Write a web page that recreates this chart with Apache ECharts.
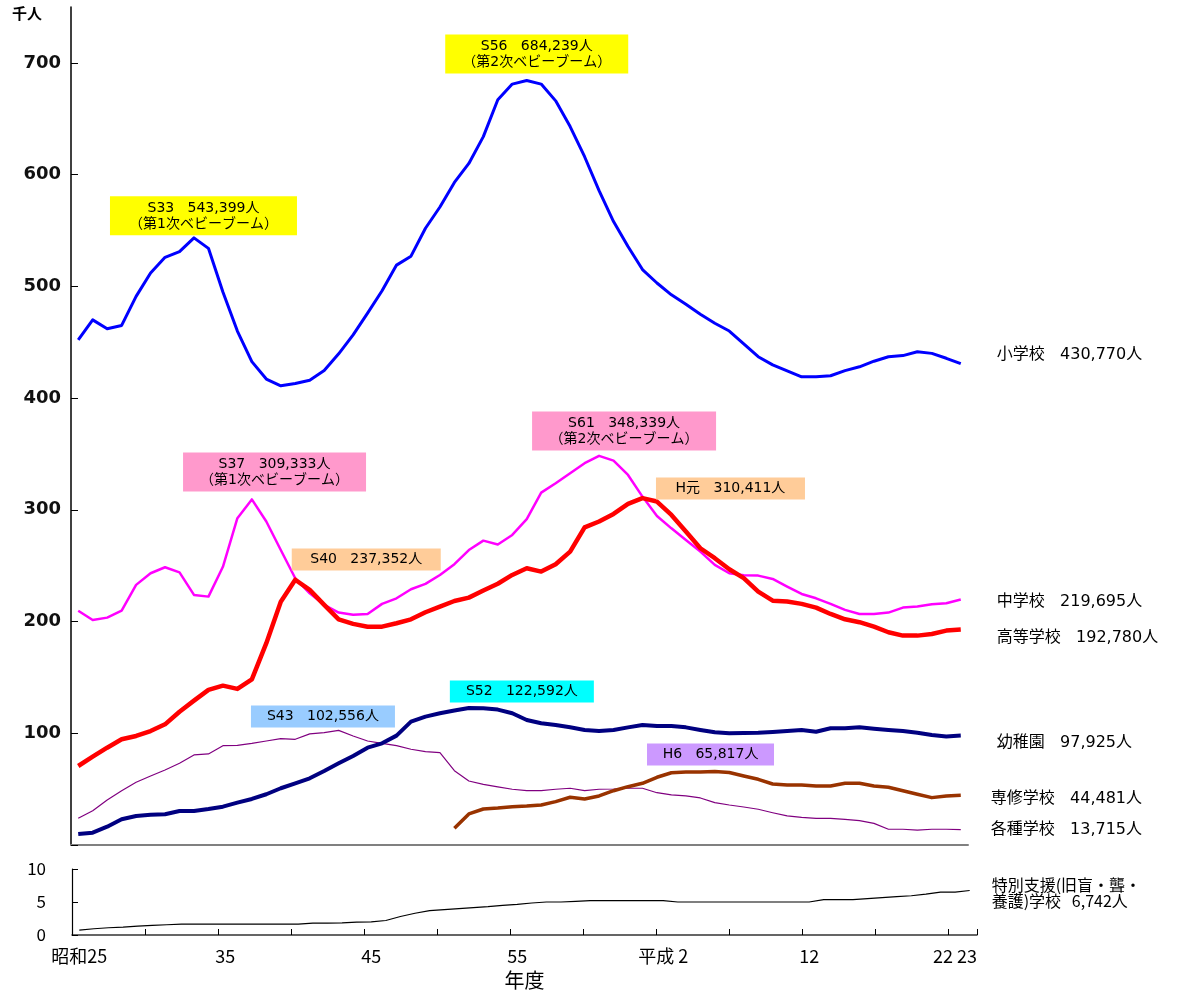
<!DOCTYPE html>
<html><head><meta charset="utf-8">
<script src="https://cdn.jsdelivr.net/npm/echarts@6/dist/echarts.min.js"></script>
<style>html,body{margin:0;padding:0;background:#fff}#c{width:1185px;height:993px}</style>
</head><body><div id="c"></div>
<script>
// fiscal years 昭和25 (1950) .. 平成23 (2011)
const years = ['昭和25','昭和26','昭和27','昭和28','昭和29','昭和30','昭和31','昭和32','昭和33','昭和34',
  '昭和35','昭和36','昭和37','昭和38','昭和39','昭和40','昭和41','昭和42','昭和43','昭和44',
  '昭和45','昭和46','昭和47','昭和48','昭和49','昭和50','昭和51','昭和52','昭和53','昭和54',
  '昭和55','昭和56','昭和57','昭和58','昭和59','昭和60','昭和61','昭和62','昭和63','平成元',
  '平成2','平成3','平成4','平成5','平成6','平成7','平成8','平成9','平成10','平成11',
  '平成12','平成13','平成14','平成15','平成16','平成17','平成18','平成19','平成20','平成21',
  '平成22','平成23'];
// the last two year labels (22, 23) sit together as one group under index 60
const tickIdx = [0, 10, 20, 30, 40, 50, 60];
const tickText = ['昭和25', '35', '45', '55', '平成 2', '12', '22 23'];
const mainTicks = [0, 100, 200, 300, 400, 500, 600, 700];
const mainTickLabels = [100, 200, 300, 400, 500, 600, 700];

// 千人
const elementary = [452,470,462,465,491,512,526,531,543.4,534,495,460,432.6,417,411,413,416,424.6,439.6,456.6,
  476,496,519,527,552,571,593,610,634,667,681,684.2,681,666,643,616,585.6,558,535.6,515,
  503,492.4,484,475,467,460,448.5,437,429.7,424.3,419,419,420,424.6,428,433,437,438,441.4,440,
  435.6,430.8];
const juniorHigh = [209.7,201.4,203.5,209.7,232.8,243.2,248.6,244,223.8,222.3,249,292.5,309.3,289.5,264,238.7,225.3,214.9,208,206,
  206.8,215.8,220.8,228.9,233.7,241.7,251.3,264,272.4,269,277.5,291.6,315.4,323.8,332.8,341.7,348.3,344,331.2,311.8,
  294.5,283.4,273,262.6,250.7,243.2,241.4,241.1,238.1,231.3,224.7,220.8,215.8,210.4,206.8,206.8,208,212.5,213.4,215.5,
  216.4,219.7];
const highSchool = [70.7,79,87.1,94.6,97.6,102,108,119.3,129.2,138.8,142.6,139.7,148.3,180.6,217.8,237.4,228.3,214.9,202,197.9,
  195.4,195.4,198.5,202,208.3,213.4,218.4,221.4,227.7,233.8,241.7,247.7,244.7,251.3,262.6,284.2,289.5,296.3,305.3,310.4,
  307.4,295.4,280.5,265.6,256.7,246.8,238.8,226.8,218.7,217.9,215.8,212.5,206.8,202,199.4,195.4,190.4,187.4,187.4,188.9,
  191.9,192.8];
const kindergarten = [9.8,11,16.4,23,26,27.1,27.5,30.4,30.4,32.2,34.3,37.9,41.2,45.4,50.8,55.2,59.7,66.2,73.1,79.7,
  87.1,91,97.9,110.4,114.9,117.9,120.3,122.6,122.4,121.2,117.9,111.9,108.9,107.4,105.3,103,102,103,105.3,107.4,
  106.5,106.5,105.3,103,100.9,100,100.3,100.5,101.2,102,103,101.4,104.5,104.5,105.3,104.1,103,102,100.5,98.5,
  97.2,97.9];
const senshu = [null,null,null,null,null,null,null,null,null,null,null,null,null,null,null,null,null,null,null,null,
  null,null,null,null,null,null,14.9,27.8,32.2,33.1,34.3,34.9,35.8,38.8,42.7,41.2,43.9,48.6,52.2,55.2,
  60.6,64.7,65.3,65.4,65.8,64.9,61.8,58.8,54.6,53.7,53.7,52.8,52.8,55.2,55.2,52.8,51.7,48.6,45.4,42.4,
  43.9,44.5];
const kakushu = [23.9,30.7,40.3,48.6,56.1,61.8,67.1,73.1,80.6,81.5,88.9,89.2,91,93.1,95.2,94.6,99.4,100.5,102.6,97.6,
  93.1,91,88.9,85.7,83.5,82.6,66.5,57.3,54.3,52,49.9,48.6,48.6,49.9,50.8,48.6,49.9,50.1,50.8,50.8,
  46.8,44.8,43.9,42.1,37.9,35.8,34,32,28.9,26,24.8,23.9,23.9,23,21.8,19.4,14.1,14.1,13.4,14.1,
  14.1,13.7];
const tokubetsu = [0.74,0.95,1.1,1.2,1.35,1.45,1.55,1.65,1.65,1.65,1.65,1.65,1.65,1.65,1.65,1.65,1.8,1.8,1.85,1.95,
  1.98,2.2,2.8,3.3,3.7,3.85,4.0,4.15,4.3,4.5,4.65,4.85,5.0,5.0,5.1,5.2,5.2,5.2,5.2,5.2,
  5.2,5.0,5.0,5.0,5.0,5.0,5.0,5.0,5.0,5.0,5.0,5.35,5.35,5.35,5.5,5.65,5.8,5.95,6.2,6.5,
  6.5,6.742];

const endNames = {
  elementary: '小学校   430,770人', juniorHigh: '中学校   219,695人', highSchool: '高等学校   192,780人',
  kindergarten: '幼稚園   97,925人', senshu: '専修学校   44,481人', kakushu: '各種学校   13,715人',
  tokubetsu: '特別支援(旧盲・聾・\n養護)学校   6,742人'
};
// peak annotations: [year index, text]
const annElem = [[8, 'S33   543,399人\n（第1次ベビーブーム）'], [31, 'S56   684,239人\n（第2次ベビーブーム）']];
const annJunior = [[12, 'S37   309,333人\n（第1次ベビーブーム）'], [36, 'S61   348,339人\n（第2次ベビーブーム）']];
const annHigh = [[15, 'S40   237,352人'], [39, 'H元   310,411人']];
const annKinder = [[27, 'S52   122,592人']];
const annKakushu = [[18, 'S43   102,556人']];
const annSenshu = [[44, 'H6   65,817人']];

const FONT = "'DejaVu Sans','Noto Sans CJK JP',sans-serif";
const NARROW = "'Liberation Sans Narrow','Noto Sans CJK JP',sans-serif";

function mp(data, ann, styles) {
  return {
    silent: true,
    data: ann.map((a, k) => {
      const s = styles[k];
      const two = a[1].indexOf('\n') >= 0;
      return {
        coord: [a[0], data[a[0]]],
        symbol: 'circle', symbolSize: 1, itemStyle: { color: 'rgba(0,0,0,0)' },
        label: {
          show: true, position: 'top', distance: 0, offset: [s.dx, -s.gap],
          formatter: a[1], backgroundColor: s.bg, width: s.w, align: 'center',
          lineHeight: 16, padding: two ? [4, 0, 3, 0] : [3, 0, 3, 0],
          color: '#000', fontSize: 14, fontFamily: FONT
        }
      };
    })
  };
}

function line(name, data, color, width, key, endDist, endOff, ann, annStyles, xi) {
  const s = {
    name, type: 'line', data, xAxisIndex: xi || 0, yAxisIndex: xi || 0,
    showSymbol: false, symbol: 'none', connectNulls: false,
    lineStyle: { color, width, join: 'round' }, itemStyle: { color },
    endLabel: {
      show: true, formatter: endNames[key], color: '#000',
      fontSize: xi ? 16 : 16, fontFamily: xi ? NARROW : FONT,
      distance: endDist, offset: endOff, lineHeight: 16
    },
    animation: false, z: 2
  };
  if (ann) s.markPoint = mp(data, ann, annStyles);
  return s;
}

const chart = echarts.init(document.getElementById('c'));
chart.setOption({
  animation: false,
  backgroundColor: '#fff',
  graphic: [{ type: 'text', left: 12, top: 6, style: { text: '千人', fontSize: 15, fontWeight: 'bold', fontFamily: "'Noto Sans CJK JP',sans-serif", fill: '#000' } }],
  grid: [
    { left: 71, top: 7, width: 897, height: 838 },
    { left: 72, top: 869, width: 905, height: 66 }
  ],
  xAxis: [
    { type: 'category', gridIndex: 0, data: years, boundaryGap: true,
      axisLine: { lineStyle: { color: '#808080', width: 2 } },
      axisTick: { show: false }, axisLabel: { show: false }, splitLine: { show: false } },
    { type: 'category', gridIndex: 1, data: years, boundaryGap: true,
      axisLine: { lineStyle: { color: '#333', width: 1.5 } },
      axisTick: { show: true, inside: true, interval: 4, length: 6, lineStyle: { color: '#000' } },
      axisLabel: {
        interval: (i) => tickIdx.indexOf(i) >= 0,
        formatter: (v, i) => {
          const t = tickText[tickIdx.indexOf(i)];
          return t.indexOf(' 2') < 0 && t.indexOf(' ') > 0 ? '{p|' + t.replace(' ', '  ') + '}' : t;
        },
        rich: { p: { padding: [0, 0, 0, 14], fontFamily: NARROW, fontSize: 18, color: '#000' } },
        fontFamily: NARROW, fontSize: 18, color: '#000', margin: 12 },
      name: '年度', nameLocation: 'middle', nameGap: 35,
      nameTextStyle: { fontFamily: NARROW, fontSize: 20, color: '#000' },
      splitLine: { show: false } }
  ],
  yAxis: [
    { type: 'value', gridIndex: 0, min: 0, max: 750, interval: 100,
      axisLine: { show: true, lineStyle: { color: '#000', width: 1.5 } },
      axisTick: { show: true, inside: true, length: 7, customValues: mainTicks, lineStyle: { color: '#000' } },
      axisLabel: { customValues: mainTickLabels, fontFamily: FONT, fontWeight: 'bold', fontSize: 18, color: '#111', margin: 10 },
      splitLine: { show: false } },
    { type: 'value', gridIndex: 1, min: 0, max: 10, interval: 5,
      axisLine: { show: true, lineStyle: { color: '#000', width: 1.2 } },
      axisTick: { show: true, inside: true, length: 6, lineStyle: { color: '#000' } },
      axisLabel: { fontFamily: NARROW, fontSize: 17, color: '#000', margin: 26 },
      splitLine: { show: false } }
  ],
  series: [
    line('各種学校', kakushu, '#800080', 1.2, 'kakushu', 30, [0, 0], annKakushu,
      [{ dx: -15.7, gap: 2.4, bg: '#99CCFF', w: 144 }]),
    line('専修学校', senshu, '#993300', 3.5, 'senshu', 30, [0, 4], annSenshu,
      [{ dx: -4.3, gap: 5.5, bg: '#CC99FF', w: 127 }]),
    line('幼稚園', kindergarten, '#000080', 4, 'kindergarten', 36, [0, 7], annKinder,
      [{ dx: 53, gap: 5, bg: '#00FFFF', w: 144 }]),
    line('中学校', juniorHigh, '#FF00FF', 2.5, 'juniorHigh', 36, [0, 2], annJunior,
      [{ dx: 22.7, gap: 7.4, bg: '#FF99CC', w: 183 }, { dx: 25, gap: 4.8, bg: '#FF99CC', w: 184 }]),
    line('高等学校', highSchool, '#FF0000', 4.5, 'highSchool', 36, [0, 8], annHigh,
      [{ dx: 71, gap: 8.8, bg: '#FFCC99', w: 149 }, { dx: 88, gap: -1.8, bg: '#FFCC99', w: 149 }]),
    line('小学校', elementary, '#0000FF', 3, 'elementary', 36, [0, -9], annElem,
      [{ dx: 9.5, gap: 2, bg: '#FFFF00', w: 187 }, { dx: 10, gap: 6.5, bg: '#FFFF00', w: 183 }]),
    line('特別支援学校', tokubetsu, '#000', 1.2, 'tokubetsu', 22, [0, 2], null, null, 1)
  ]
});
</script>
</body></html>
